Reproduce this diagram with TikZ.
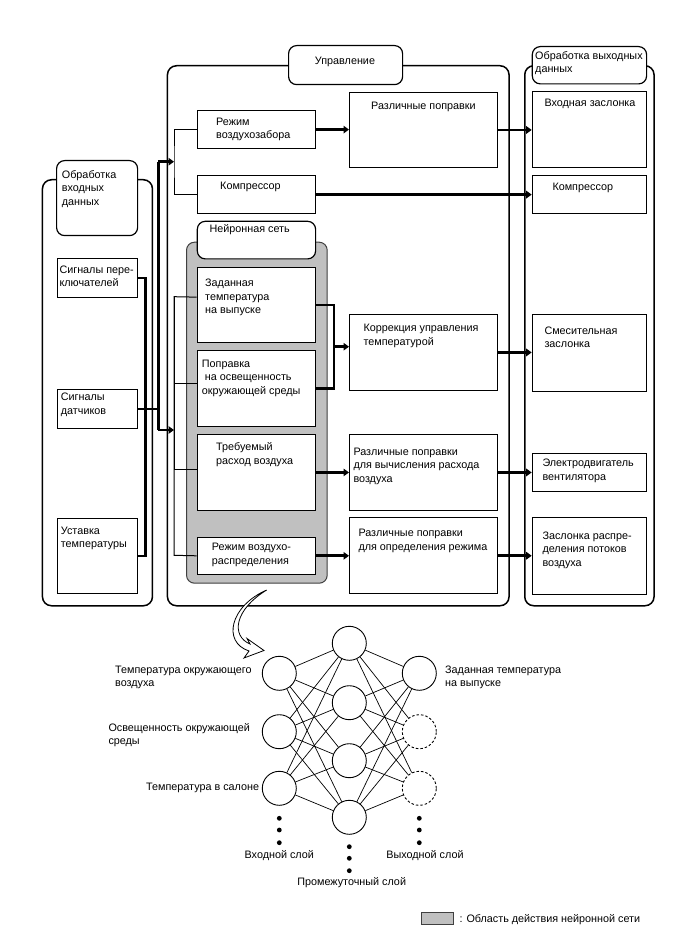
\documentclass[tikz,border=0pt]{standalone}
\usepackage{fontspec}
\setmainfont{Liberation Sans}
\usetikzlibrary{arrows.meta,calc}
\definecolor{nnfill}{RGB}{192,192,192}
\newcommand\dgfont{\fontsize{10.8}{13.4}\selectfont}
\newcommand\mltext[1]{\begin{tabular}[t]{@{}l@{}}#1\end{tabular}}
\begin{document}
\begin{tikzpicture}[x=1pt,y=-1pt,font=\dgfont,
box/.style={draw,fill=white,line width=.9pt,inner sep=0,anchor=north west},
grp/.style={draw,line width=1.5pt,rounded corners=9pt,inner sep=0,anchor=north west},
ttl/.style={draw,fill=white,line width=1.2pt,rounded corners=8pt,inner sep=0,anchor=north west},
txt/.style={anchor=base west,inner sep=0},
thn/.style={line width=1pt},thkln/.style={line width=2.7pt},
thk/.style={line width=2.7pt,-{Triangle[length=5.5pt,width=7.5pt]}},
neur/.style={circle,draw,line width=.9pt,minimum size=34pt,inner sep=0}]
\useasboundingbox(0,0)rectangle(688,949);
\node[grp,minimum width=110pt,minimum height=426pt](inG)at(41.7,179){};
\node[grp,minimum width=341.6pt,minimum height=540pt](ctG)at(166.7,65){};
\node[grp,minimum width=129.3pt,minimum height=540pt](ouG)at(524,65){};
\node[ttl,minimum width=81pt,minimum height=75pt](inT)at(56,160){};\node[txt](inTt)at(61.7,178.5){\mltext{Обработка\\входных\\данных}};
\node[ttl,minimum width=114pt,minimum height=39pt](ctT)at(288,45){};\node[anchor=base,inner sep=0](ctTt)at(345,64.2){Управление};
\node[ttl,minimum width=114.3pt,minimum height=37.3pt](ouT)at(531.7,46){};\node[txt](ouTt)at(535,59.5){\mltext{Обработка выходных\\данных}};
\node[box,minimum width=80pt,minimum height=39pt](sw)at(56.5,258){};\node[txt](swt)at(59.3,273.5){\mltext{Сигналы пере-\\ключателей}};
\node[box,minimum width=80pt,minimum height=39pt](sd)at(56.5,389){};\node[txt](sdt)at(60.7,400.8){\mltext{Сигналы\\датчиков}};
\node[box,minimum width=80pt,minimum height=75pt](us)at(56.5,518){};\node[txt](ust)at(60.7,534.2){\mltext{Уставка\\температуры}};
\node[box,minimum width=118.3pt,minimum height=38.3pt](rz)at(196.7,110){};\node[txt](rzt)at(216,125.2){\mltext{Режим\\воздухозабора}};
\node[box,minimum width=118.3pt,minimum height=38.3pt](km)at(196.7,175){};\node[txt](kmt)at(220,189.2){Компрессор};
\node[box,minimum width=148.3pt,minimum height=75.6pt](rp)at(349,91.7){};\node[txt](rpt)at(371,109.5){Различные поправки};
\node[draw=black!75,fill=nnfill,line width=1pt,rounded corners=8pt,inner sep=0,anchor=north west,minimum width=140.7pt,minimum height=341pt](nnA)at(186,241.7){};
\node[ttl,minimum width=118.3pt,minimum height=37.6pt](nnT)at(196.7,220.7){};\node[txt](nnTt)at(209.3,232.8){Нейронная сеть};
\node[box,minimum width=118.3pt,minimum height=75.6pt](zt)at(196.7,266.7){};\node[txt](ztt)at(205,286.8){\mltext{Заданная\\температура\\на выпуске}};
\node[box,minimum width=118.3pt,minimum height=75.7pt](po)at(196.7,350){};\node[txt](pot)at(201.7,367.5){\mltext{Поправка\\\hspace*{3pt}на освещенность\\окружающей среды}};
\node[box,minimum width=118.3pt,minimum height=76pt](tr)at(196.7,434){};\node[txt](trt)at(216,450.8){\mltext{Требуемый\\расход воздуха}};
\node[box,minimum width=118.3pt,minimum height=37.3pt](rv)at(196.7,536.7){};\node[txt](rvt)at(211.7,550.8){\mltext{Режим воздухо-\\распределения}};
\node[box,minimum width=148.3pt,minimum height=76pt](kr)at(349,314){};\node[txt](krt)at(363.3,331.8){\mltext{Коррекция управления\\температурой}};
\node[box,minimum width=148.3pt,minimum height=76pt](rr)at(349,434){};\node[txt](rrt)at(353.3,455.2){\mltext{Различные поправки\\для вычисления расхода\\воздуха}};
\node[box,minimum width=148.3pt,minimum height=76pt](rd)at(349,517.3){};\node[txt](rdt)at(358.3,536.8){\mltext{Различные поправки\\для определения режима}};
\node[box,minimum width=114.3pt,minimum height=76.3pt](vz)at(531.7,91){};\node[txt](vzt)at(544.3,106.8){Входная заслонка};
\node[box,minimum width=114.3pt,minimum height=38.3pt](kp)at(531.7,175){};\node[txt](kpt)at(552.3,190.2){Компрессор};
\node[box,minimum width=114.3pt,minimum height=77pt](sm)at(531.7,314){};\node[txt](smt)at(544.3,334.2){\mltext{Смесительная\\заслонка}};
\node[box,minimum width=114.3pt,minimum height=38.3pt](ed)at(531.7,452.7){};\node[txt](edt)at(542.3,466.8){\mltext{Электродвигатель\\вентилятора}};
\node[box,minimum width=114.3pt,minimum height=76.7pt](zr)at(531.7,517.3){};\node[txt](zrt)at(542.3,539.5){\mltext{Заслонка распре-\\деления потоков\\воздуха}};
\coordinate(t0)at(158.3,161.7);\coordinate(t1)at(174,161.7);\coordinate(t3)at(158.3,430);\coordinate(t2)at(174,430);
\coordinate(n1)at(174,296.7);\coordinate(n4)at(174,555.3);\coordinate(k1)at(334,346.7);
\draw[thkln](sw.east)-|([xshift=7.8pt]us.east)--(us.east);
\draw[thkln](sd.east)-|(t3);\draw[thkln](t0)--(t3);\draw[thk](t0)--(t1);\draw[thk](t3)--(t2);
\draw[thn](rz.west)-|(t1)|-(km.west);
\draw[thn]([yshift=7.8pt]zt.west)--(n1)--(n4)--(rv.west);\draw[thn]([yshift=4.6pt]po.west)-|(n1);\draw[thn]([yshift=2.7pt]tr.west)-|(n1);
\draw[thk](rz.east)--(rz.east-|rp.west);\draw[thk](rp.east)--(rp.east-|vz.west);\draw[thk](km.east)--(km.east-|kp.west);
\draw[thkln](zt.east)-|(k1)|-(po.east);\draw[thk](k1)--(k1-|kr.west);\draw[thk](kr.east)--(kr.east-|sm.west);
\draw[thk](tr.east)--(tr.east-|rr.west);\draw[thk](rr.east)--(rr.east-|ed.west);
\draw[thk](rv.east)--(rv.east-|rd.west);\draw[thk](rd.east)--(rd.east-|zr.west);
\draw[line width=.8pt,fill=white](266.7,590) .. controls (230,606) and (222,642) .. (249,651)--(244,658)--(264,650.5)--(247,638.5)--(250,644) .. controls (231,636) and (234,610) .. (266.7,590)--cycle;
\node[neur](i1)at(279.3,673.3){};\node[neur](i2)at(279.3,731.7){};\node[neur](i3)at(279.3,788.3){};
\node[neur](h1)at(349.3,643.3){};\node[neur](h2)at(349.3,702.7){};\node[neur](h3)at(349.3,760.7){};\node[neur](h4)at(349.3,817.3){};
\node[neur](o1)at(419.3,673.3){};\node[neur,dashed,dash pattern=on 2.5pt off 2pt](o2)at(419.3,731.7){};\node[neur,dashed,dash pattern=on 2.5pt off 2pt](o3)at(419.3,788.3){};
\foreach \i in {1,2,3}\foreach \j in {1,...,4}\draw[line width=.7pt](i\i)--(h\j);
\foreach \j in {1,...,4}\foreach \k in {1,2,3}\draw[line width=.7pt](h\j)--(o\k);
\foreach \y in {818.3,830,842.7}{\fill(279.3,\y)circle[radius=2.4pt];\fill(419.3,\y)circle[radius=2.4pt];}
\foreach \y in {846.7,858.3,870.7}\fill(349.3,\y)circle[radius=2.4pt];
\node[txt](l1)at(115,673.5){\mltext{Температура окружающего\\воздуха}};
\node[txt](l2)at(108.3,731.2){\mltext{Освещенность окружающей\\среды}};
\node[anchor=base east,inner sep=0](l3)at(259.3,790.8){Температура в салоне};
\node[txt](l4)at(445,673.5){\mltext{Заданная температура\\на выпуске}};
\node[anchor=base,inner sep=0](ly1)at(279.3,858.5){Входной слой};
\node[anchor=base,inner sep=0](ly2)at(425,858.5){Выходной слой};
\node[anchor=base,inner sep=0](ly3)at(351.7,885.2){Промежуточный слой};
\node[draw=black!75,fill=nnfill,line width=.8pt,inner sep=0,anchor=north west,minimum width=32pt,minimum height=12pt](lg)at(420.7,912.3){};
\node[anchor=base west,inner sep=0](lgt)at(459.3,922){: Область действия нейронной сети};
\end{tikzpicture}
\end{document}
